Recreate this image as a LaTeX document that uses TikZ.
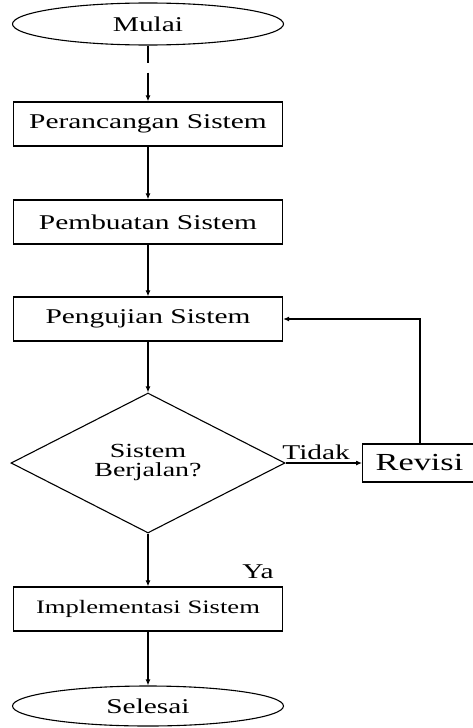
\documentclass[tikz,border=0pt]{standalone}
\usepackage{fontspec}
\setmainfont{Liberation Serif}[FakeStretch=1.4]
\usetikzlibrary{arrows.meta, shapes.geometric}

\begin{document}
\begin{tikzpicture}[x=1pt, y=-1pt,
    terminal/.style={draw, ellipse, line width=1.1pt, minimum width=271pt, minimum height=42pt, inner sep=0pt, font=\fontsize{21}{21}\selectfont},
    process/.style={draw, rectangle, line width=1.3pt, minimum width=269pt, minimum height=44pt, inner sep=0pt, font=\fontsize{21}{21}\selectfont},
    decision/.style={draw, diamond, aspect=1.96, line width=1.1pt, minimum width=274pt, minimum height=140pt, inner sep=0pt, align=center, font=\fontsize{20}{19}\selectfont},
    flow/.style={-{Latex[length=6pt,width=5pt]}, line width=1.1pt},
    tag/.style={inner sep=0pt, font=\fontsize{21}{21}\selectfont}]
    % page
    \useasboundingbox (0,0) rectangle (473,728);
    % main column
    \node[terminal] (mulai) at (148,24) {Mulai};
    \node[process] (perancangan) at (148,124) {Perancangan Sistem};
    \node[process] (pembuatan) at (148,222) {Pembuatan Sistem};
    \node[process] (pengujian) at (148,319) {Pengujian Sistem};
    \node[decision] (berjalan) at (148,463) {Sistem\\Berjalan?};
    \node[process, font=\fontsize{19}{19}\selectfont] (implementasi) at (148,609) {Implementasi Sistem};
    \node[terminal, minimum height=40pt] (selesai) at (148,706) {Selesai};
    % revision
    \node[process, anchor=west, minimum width=0pt, minimum height=38pt, inner xsep=13pt, text width=110pt, align=left, font=\fontsize{24.5}{24.5}\selectfont] (revisi) at (362,463) {Revisi};
    \node[tag] (ya) at (258,572) {Ya};
    % arrows
    \draw[flow, dash pattern={on 17pt off 10pt on 40pt}] (mulai) -- (perancangan);
    \draw[flow] (perancangan) -- (pembuatan);
    \draw[flow] (pembuatan) -- (pengujian);
    \draw[flow] (pengujian) -- (berjalan);
    \draw[flow] (berjalan) -- node[tag, pos=0.4, above=3pt] {Tidak} (revisi);
    \draw[flow] (berjalan) -- (implementasi);
    \draw[flow] (implementasi) -- (selesai);
    \draw[flow] (revisi.north -| 420,0) |- (pengujian.east);
\end{tikzpicture}
\end{document}
